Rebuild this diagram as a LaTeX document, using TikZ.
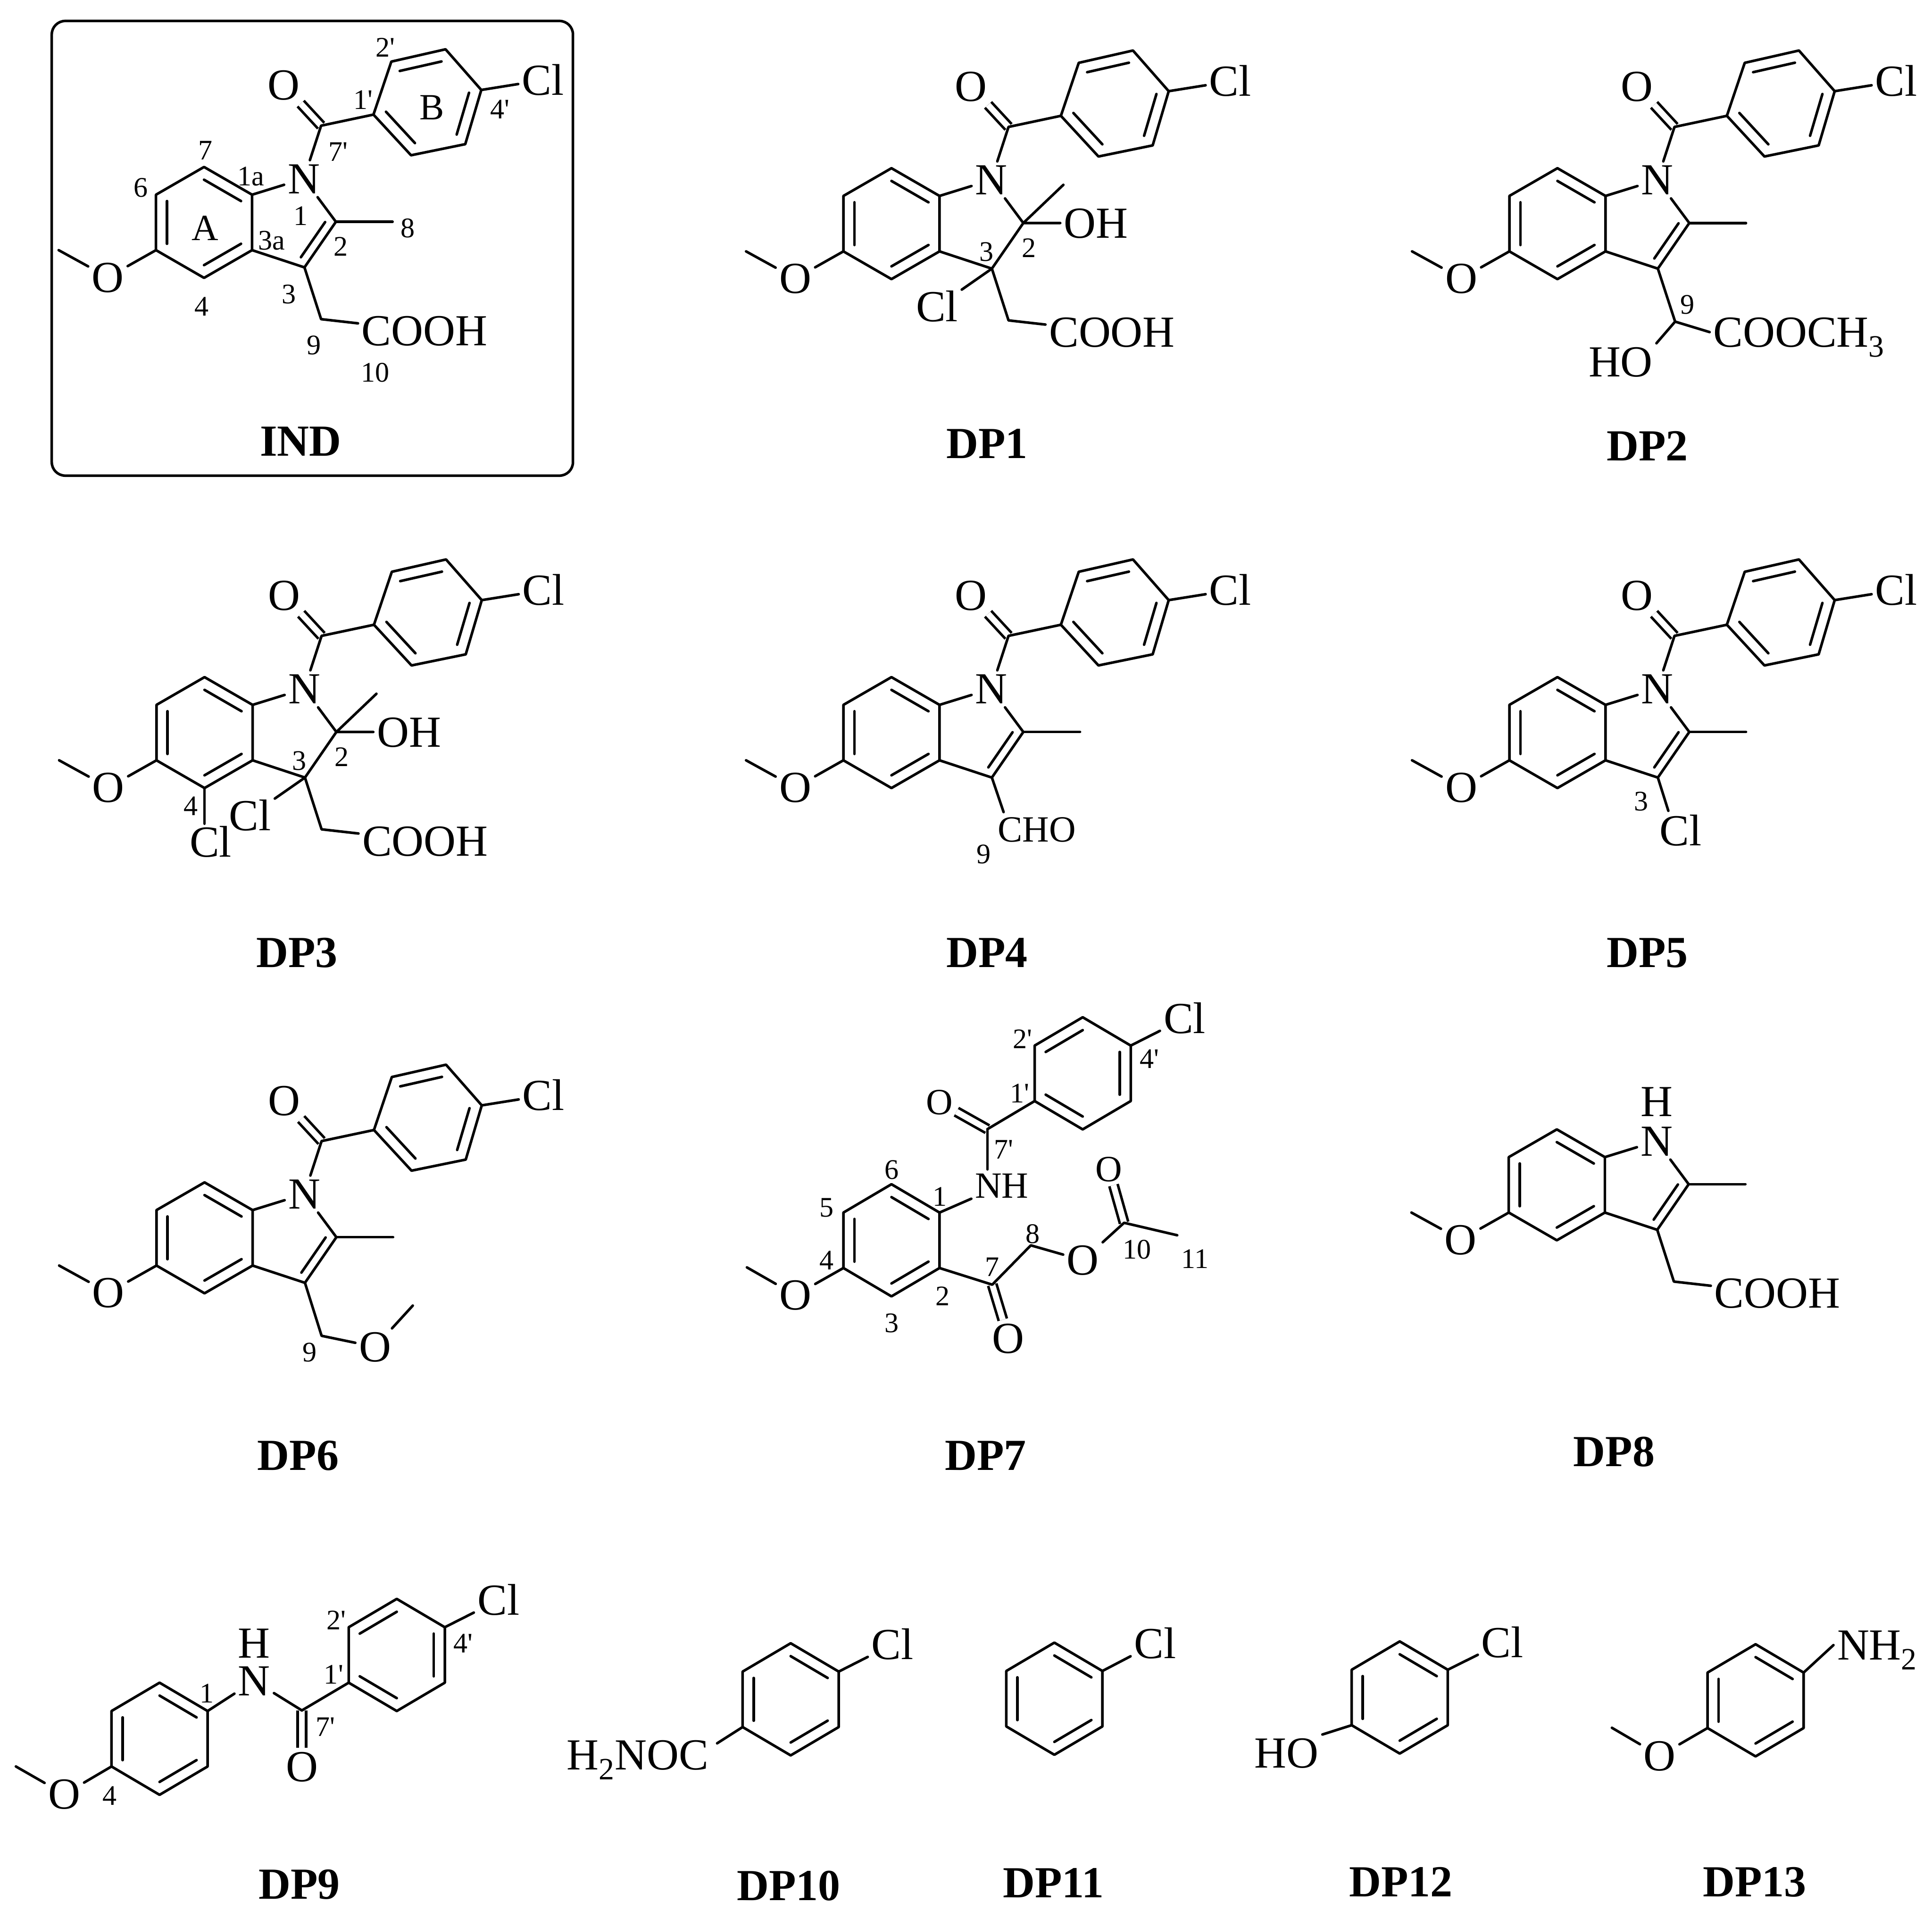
\documentclass[tikz,border=0pt]{standalone}
\usepackage{fontspec}
\setmainfont{Liberation Serif}
\usetikzlibrary{calc}
\tikzstyle{atom}=[font=\fontsize{36}{36}\selectfont,
                  inner sep=2pt,text height=24pt,text depth=0pt]
\tikzstyle{smallatom}=[font=\fontsize{30}{30}\selectfont,
                       inner sep=2pt,text height=20pt,text depth=0pt]
\tikzstyle{locant}=[font=\fontsize{23}{23}\selectfont,
                    inner sep=0pt,text height=15.5pt,text depth=0pt]
\tikzstyle{ringname}=[font=\fontsize{30}{30}\selectfont,
                      inner sep=0pt,text height=20pt,text depth=0pt]
\tikzstyle{cpdname}=[font=\fontsize{36}{36}\bfseries\selectfont,
                     inner sep=0pt,text height=24pt,text depth=0pt]
\tikzstyle{dbond}=[line cap=butt,double=white,double distance=4.8pt]
\newcommand{\prm}{\textquotesingle}
\begin{document}
\begin{tikzpicture}[x=1pt,y=-1pt,line width=2.1pt,line cap=round,line join=round]
    \useasboundingbox (0,0) rectangle (1568,1557);
    \newcommand{\inbond}[3]{\draw ($(#1)!.23!(#3)$) -- ($(#2)!.23!(#3)$);}
    % six-ring, #1 centre, #2 is 1 or -1 for the mirrored one
    \newcommand{\benzring}[2]{
      \begin{scope}[shift={#1},xscale=#2]
        \coordinate (rc) at (0,0);
        \coordinate (r1) at (39,-22.5);
        \coordinate (r2) at (0,-45.5);
        \coordinate (r3) at (-39,-22.5);
        \coordinate (r4) at (-39,22.5);
        \coordinate (r5) at (0,45.5);
        \coordinate (r6) at (39,22.5);
        \draw (r1) -- (r2) -- (r3) -- (r4) -- (r5) -- (r6) -- cycle;
        \inbond{r1}{r2}{rc} \inbond{r3}{r4}{rc} \inbond{r5}{r6}{rc}
      \end{scope}
    }
    % benzo part with the methoxy group, origin at c3a
    \newcommand{\benzo}{
      \coordinate (c3a) at (0,0);
      \coordinate (c1a) at (0,-45);
      \coordinate (c7) at (-39,-67.5);
      \coordinate (c6) at (-78,-45);
      \coordinate (c5) at (-78,0);
      \coordinate (c4) at (-39,22.5);
      \coordinate (ca) at (-39,-22.5);
      \coordinate (me) at (-157,0);
      \node (om) at (-117,22) [atom]{O};
      \draw (c3a) -- (c1a) -- (c7) -- (c6) -- (c5) -- (c4) -- cycle;
      \draw (c5) -- (om) -- (me);
      \inbond{c1a}{c7}{ca} \inbond{c6}{c5}{ca} \inbond{c4}{c3a}{ca}
    }
    % five-ring, single bonds only
    \newcommand{\fivering}{
      \node (n) at (42,-58) [atom]{N};
      \coordinate (c2) at (68,-23);
      \coordinate (c3) at (42.5,14);
      \coordinate (cb) at (30,-22);
      \draw (c1a) -- (n) -- (c2) -- (c3) -- (c3a);
    }
    % c2=c3 and the methyl on c2
    \newcommand{\enemethyl}{
      \coordinate (me2) at (114,-23);
      \draw (c2) -- (me2);
      \inbond{c2}{c3}{cb}
    }
    % 2-hydroxy-3-chloro indoline
    \newcommand{\hydroxychloro}{
      \coordinate (me2) at (100.5,-54);
      \node (oh) at (127,-23) [atom]{OH};
      \node (cl3) at (-2,45) [atom]{Cl};
      \draw (me2) -- (c2) -- (oh);
      \draw (c3) -- (cl3);
      \node (l3) at (38,0) [locant]{3};
      \node (l2) at (72.5,-3) [locant]{2};
    }
    \newcommand{\aceticacid}{
      \coordinate (c9) at (56,56);
      \node (cooh) at (140,65.5) [atom]{COOH};
      \draw (c3) -- (c9) -- (cooh);
    }
    % 4-chlorobenzoyl on the nitrogen
    \newcommand{\aroyl}{
      \coordinate (c7p) at (56,-101);
      \coordinate (c1p) at (98.5,-110);
      \coordinate (c2p) at (113,-153);
      \coordinate (c3p) at (157,-163);
      \coordinate (c4p) at (186,-130);
      \coordinate (c5p) at (173,-86);
      \coordinate (c6p) at (129,-77);
      \coordinate (cp) at (142.7,-120);
      \node (op) at (25.5,-134) [atom]{O};
      \node (clp) at (236,-138) [atom]{Cl};
      \draw[dbond] (c7p) -- (op);
      \draw (n) -- (c7p) -- (c1p) -- (c2p) -- (c3p) -- (c4p) -- (c5p) -- (c6p) -- (c1p);
      \draw (c4p) -- (clp);
      \inbond{c2p}{c3p}{cp} \inbond{c4p}{c5p}{cp} \inbond{c6p}{c1p}{cp}
    }

    % IND
    \node (indbox) at (253.5,201.5) [draw,rounded corners=11pt,inner sep=0pt,
                                     minimum width=423pt,minimum height=369pt]{};
    \begin{scope}[shift={(204.6,203)},name prefix=ind-]
      \benzo \fivering \enemethyl \aceticacid \aroyl
      \node (l7) at (-38,-81) [locant]{7};
      \node (l6) at (-90.4,-51) [locant]{6};
      \node (l1a) at (-1,-60) [locant]{1a};
      \node (l1) at (39.5,-28) [locant]{1};
      \node (l3a) at (16,-8) [locant]{3a};
      \node (l2) at (72,-3) [locant]{2};
      \node (l8) at (126.5,-18) [locant]{8};
      \node (l3) at (30,35.5) [locant]{3};
      \node (l4) at (-41,45.5) [locant]{4};
      \node (l9) at (50,77) [locant]{9};
      \node (l10) at (100,99) [locant]{10};
      \node (l1p) at (90,-122) [locant]{1\prm};
      \node (l2p) at (108,-164.5) [locant]{2\prm};
      \node (l4p) at (201,-114.5) [locant]{4\prm};
      \node (l7p) at (70,-80) [locant]{7\prm};
      \node (ra) at (-38,-18) [ringname]{A};
      \node (rb) at (146,-116) [ringname]{B};
    \end{scope}
    \node (indname) at (244,358) [cpdname]{IND};

    % DP1
    \begin{scope}[shift={(762.5,204)},name prefix=dp1-]
      \benzo \fivering \hydroxychloro \aceticacid \aroyl
    \end{scope}
    \node (dp1name) at (801,360) [cpdname]{DP1};

    % DP2
    \begin{scope}[shift={(1303,204)},name prefix=dp2-]
      \benzo \fivering \enemethyl \aroyl
      \coordinate (c9) at (56.5,57);
      \node (ho) at (12.3,89.6) [atom]{HO};
      \node (ester) at (84.5,65.5) [atom,anchor=west]{COOCH\textsubscript{3}};
      \draw (c3) -- (c9) -- (ester.west);
      \draw (c9) -- (ho.north east);
      \node (l9) at (66.5,43) [locant]{9};
    \end{scope}
    \node (dp2name) at (1337,362) [cpdname]{DP2};

    % DP3
    \begin{scope}[shift={(205,617)},name prefix=dp3-]
      \benzo \fivering \hydroxychloro \aceticacid \aroyl
      \node (cl4) at (-34,66.5) [atom]{Cl};
      \draw (c4) -- (c4 |- cl4.north);
      \node (l4) at (-50,37) [locant]{4};
    \end{scope}
    \node (dp3name) at (241,773) [cpdname]{DP3};

    % DP4
    \begin{scope}[shift={(762.5,617)},name prefix=dp4-]
      \benzo \fivering \enemethyl \aroyl
      \coordinate (e9) at (52,42);
      \node (cho) at (79,56) [smallatom]{CHO};
      \draw (c3) -- (e9);
      \node (l9) at (36,76) [locant]{9};
    \end{scope}
    \node (dp4name) at (801,773) [cpdname]{DP4};

    % DP5
    \begin{scope}[shift={(1303,617)},name prefix=dp5-]
      \benzo \fivering \enemethyl \aroyl
      \coordinate (e3) at (51,41);
      \node (cl3) at (61,57) [atom]{Cl};
      \draw (c3) -- (e3);
      \node (l3) at (29,33) [locant]{3};
    \end{scope}
    \node (dp5name) at (1337,773) [cpdname]{DP5};

    % DP6
    \begin{scope}[shift={(205,1027)},name prefix=dp6-]
      \benzo \fivering \enemethyl \aroyl
      \coordinate (c9) at (56,57);
      \coordinate (me9) at (130,32.5);
      \node (o9) at (99.4,66) [atom]{O};
      \draw (c3) -- (c9) -- (o9) -- (me9);
      \node (l9) at (46.3,70.3) [locant]{9};
    \end{scope}
    \node (dp6name) at (242,1181) [cpdname]{DP6};

    % DP7
    \begin{scope}[name prefix=dp7-]
      \benzring{(723.5,1006.5)}{1}
      \node (om) at (645.6,1051) [atom]{O};
      \coordinate (me) at (606.2,1028.5);
      \draw (r4) -- (om) -- (me);
      \node (nh) at (813,962) [smallatom]{NH};
      \draw (r1) -- (nh);
      \coordinate (c7) at (805.3,1042.5);
      \node (o7) at (818.4,1086) [atom]{O};
      \coordinate (c8) at (836.6,1010.6);
      \node (o8) at (878.9,1022.7) [atom]{O};
      \coordinate (c10) at (912.3,992.3);
      \node (o10) at (900,948.7) [smallatom]{O};
      \coordinate (c11) at (955.4,1002.4);
      \draw[dbond] (c7) -- (o7);
      \draw[dbond] (c10) -- (o10);
      \draw (r6) -- (c7) -- (c8) -- (o8) -- (c10) -- (c11);
      \node (l1) at (762.8,970.8) [locant]{1};
      \node (l2) at (764.9,1051.8) [locant]{2};
      \node (l3) at (723.6,1073.4) [locant]{3};
      \node (l4) at (670.9,1022.7) [locant]{4};
      \node (l5) at (670.9,979.6) [locant]{5};
      \node (l6) at (723.6,949.2) [locant]{6};
      \node (l7) at (805.3,1027.8) [locant]{7};
      \node (l8) at (838,1001) [locant]{8};
      \node (l10) at (922.8,1013.8) [locant]{10};
      \node (l11) at (969.7,1021.4) [locant]{11};
      \coordinate (c7p) at (801.4,916.3);
      \node (op) at (762.3,894.3) [smallatom]{O};
      \draw[dbond] (c7p) -- (op);
      \draw (c7p) -- (c7p |- nh.north);
      \benzring{(878.7,871)}{-1}
      \node (clp) at (961.4,826.4) [atom]{Cl};
      \draw (r6) -- (c7p);
      \draw (r3) -- (clp);
      \node (l1p) at (827.5,887) [locant]{1\prm};
      \node (l2p) at (830,843) [locant]{2\prm};
      \node (l4p) at (933,859.3) [locant]{4\prm};
      \node (l7p) at (814.5,932.8) [locant]{7\prm};
    \end{scope}
    \node (dp7name) at (800,1181) [cpdname]{DP7};

    % DP8
    \begin{scope}[shift={(1302.5,984)},name prefix=dp8-]
      \benzo \fivering \enemethyl \aceticacid
      \node (h) at (42,-90) [atom]{H};
    \end{scope}
    \node (dp8name) at (1310,1178) [cpdname]{DP8};

    % DP9
    \begin{scope}[name prefix=dp9-]
      \benzring{(129.5,1411)}{1}
      \node (om) at (52.2,1456) [atom]{O};
      \coordinate (me) at (12.9,1433.5);
      \draw (r4) -- (om) -- (me);
      \node (n) at (206.3,1364) [atom]{N};
      \node (h) at (206.3,1333.5) [atom]{H};
      \draw (r1) -- (n);
      \coordinate (c7p) at (245,1388);
      \node (op) at (245,1433.5) [atom]{O};
      \draw[dbond] (c7p) -- (op);
      \draw (n) -- (c7p);
      \node (l1) at (168,1374) [locant]{1};
      \node (l4) at (89,1457) [locant]{4};
      \benzring{(322,1343)}{-1}
      \node (clp) at (404.6,1298.5) [atom]{Cl};
      \draw (r6) -- (c7p);
      \draw (r3) -- (clp);
      \node (l1p) at (270.8,1358.8) [locant]{1\prm};
      \node (l2p) at (273,1314.7) [locant]{2\prm};
      \node (l4p) at (376,1333.6) [locant]{4\prm};
      \node (l7p) at (264,1401) [locant]{7\prm};
    \end{scope}
    \node (dp9name) at (243,1529) [cpdname]{DP9};

    % DP10
    \begin{scope}[name prefix=dp10-]
      \benzring{(641.7,1379)}{1}
      \node (cl) at (724.3,1334.4) [atom]{Cl};
      \node (amide) at (578,1424) [atom,anchor=east]{H\textsubscript{2}NOC};
      \coordinate (e4) at (582,1414.7);
      \draw (r1) -- (cl);
      \draw (r4) -- (e4);
    \end{scope}
    \node (dp10name) at (640,1530) [cpdname]{DP10};

    % DP11
    \begin{scope}[name prefix=dp11-]
      \benzring{(855.7,1378.5)}{1}
      \node (cl) at (937.6,1333.6) [atom]{Cl};
      \draw (r1) -- (cl);
    \end{scope}
    \node (dp11name) at (855,1528) [cpdname]{DP11};

    % DP12
    \begin{scope}[name prefix=dp12-]
      \benzring{(1136,1377.5)}{1}
      \node (cl) at (1219.4,1332.9) [atom]{Cl};
      \node (ho) at (1044.2,1422.6) [atom]{HO};
      \draw (r1) -- (cl);
      \draw (r4) -- (ho.north east);
    \end{scope}
    \node (dp12name) at (1137,1527) [cpdname]{DP12};

    % DP13
    \begin{scope}[name prefix=dp13-]
      \benzring{(1424.8,1379.8)}{1}
      \node (nh2) at (1488,1335) [atom,anchor=west]{NH\textsubscript{2}};
      \node (om) at (1347,1424.8) [atom]{O};
      \coordinate (me) at (1308.2,1402.1);
      \draw (r1) -- (nh2.west);
      \draw (r4) -- (om) -- (me);
    \end{scope}
    \node (dp13name) at (1424,1527) [cpdname]{DP13};
\end{tikzpicture}
\end{document}
